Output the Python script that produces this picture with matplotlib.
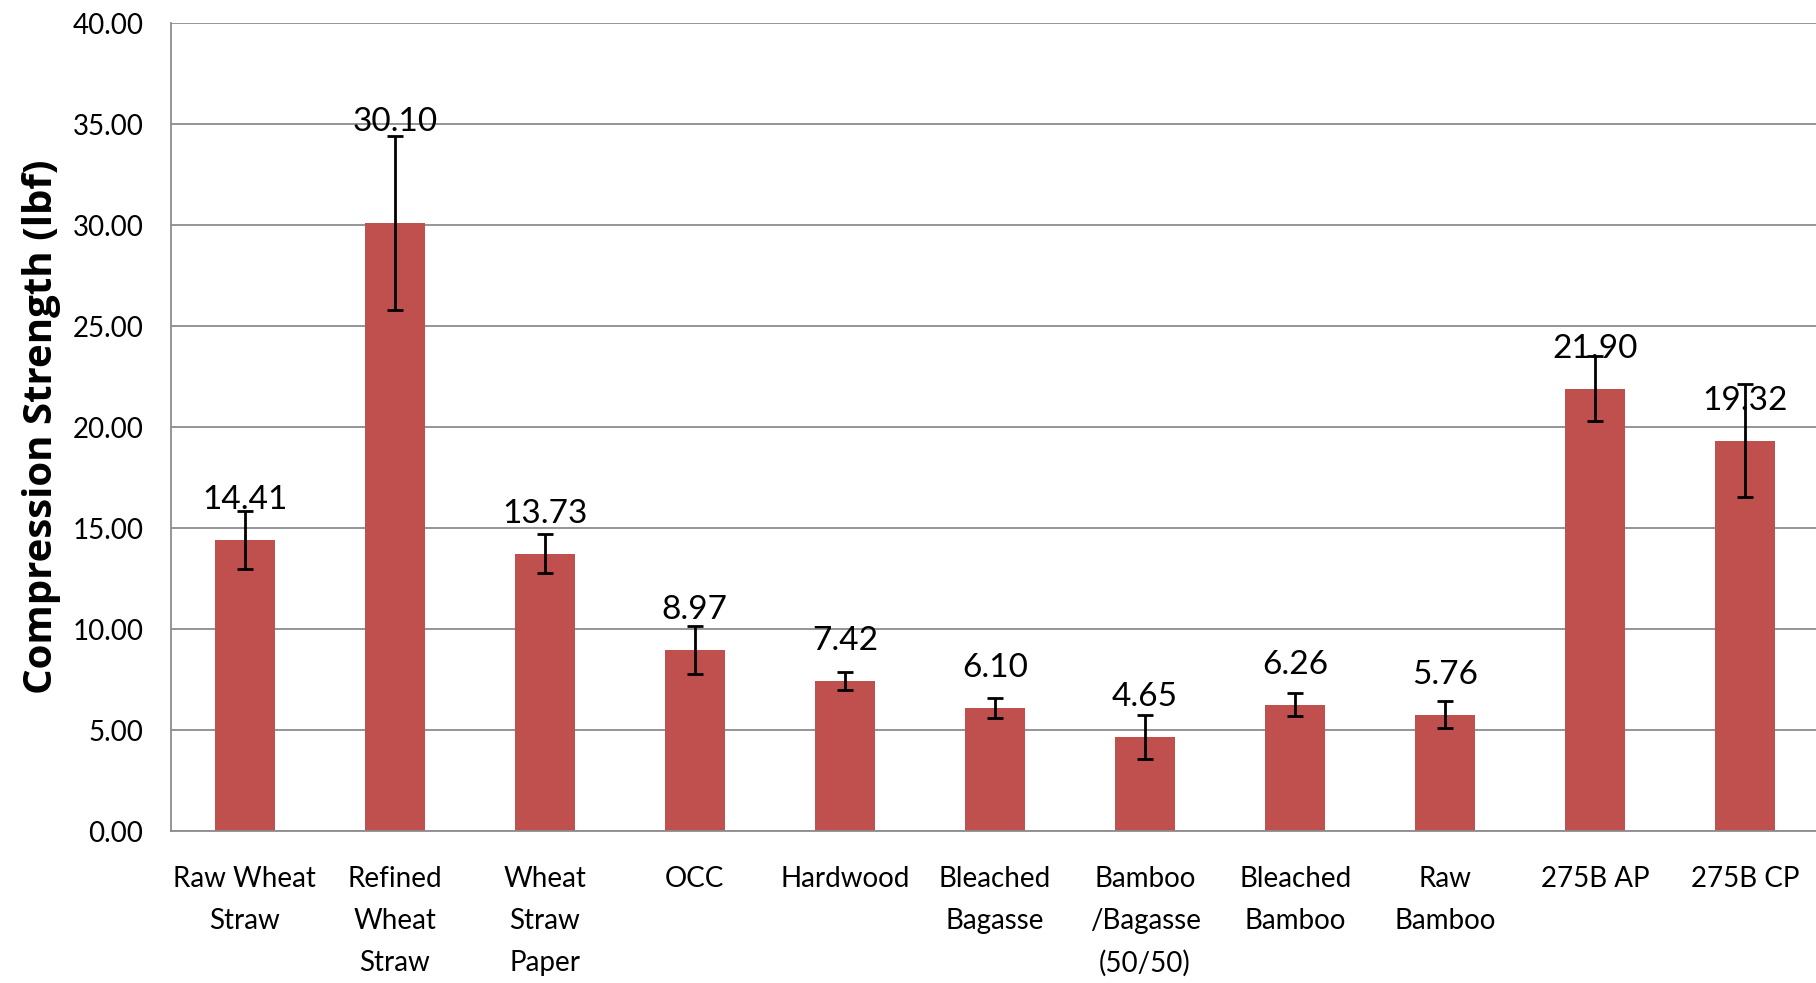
import numpy as np
import matplotlib
matplotlib.use("Agg")
import matplotlib.pyplot as plt

categories = ["Raw Wheat\nStraw", "Refined\nWheat\nStraw", "Wheat\nStraw\nPaper", "OCC",
              "Hardwood", "Bleached\nBagasse", "Bamboo\n/Bagasse\n(50/50)", "Bleached\nBamboo",
              "Raw\nBamboo", "275B AP", "275B CP"]
strength = [14.41, 30.10, 13.73, 8.97, 7.42, 6.10, 4.65, 6.26, 5.76, 21.90, 19.32]
error = [1.44, 4.3, 0.97, 1.2, 0.43, 0.5, 1.07, 0.58, 0.66, 1.6, 2.8]

plt.rcParams['font.family'] = ['Lato', 'DejaVu Sans']

fig = plt.figure(figsize=(18.16, 9.83), dpi=100)
ax = fig.add_axes([0.0942, 0.1546, 0.9058, 0.822])

x = np.arange(len(categories))
ax.bar(x, strength, width=0.4, color='#C0504D', zorder=2)
ax.errorbar(x, strength, yerr=error, fmt='none', ecolor='black', elinewidth=2,
            capsize=5.5, capthick=2, zorder=3)

# value labels sit above the bar tops; the tallest one was moved up in the original
for i, v in enumerate(strength):
    if v > 25:
        ax.text(i, 35.1, f"{v:.2f}", ha='center', va='center', fontsize=24)
    else:
        ax.annotate(f"{v:.2f}", (i, v), xytext=(0, 40), textcoords='offset pixels',
                    ha='center', va='center', fontsize=24)

ax.set_xlim(-0.49, 10.47)
ax.set_ylim(0, 40)
ax.set_yticks(np.arange(0, 40.1, 5))
ax.set_yticklabels([f"{t:.2f}" for t in np.arange(0, 40.1, 5)], fontsize=20)
ax.set_xticks(x)
ax.set_xticklabels(categories, fontsize=20, linespacing=1.76, va='top')
ax.tick_params(axis='both', length=0)
ax.tick_params(axis='y', pad=20)
ax.tick_params(axis='x', pad=25)
ax.yaxis.grid(True, color='#8c8c8c', linewidth=1.3, zorder=0)
ax.set_axisbelow(True)
for s in ['top', 'right']:
    ax.spines[s].set_visible(False)
ax.spines['left'].set_color('#8c8c8c')
ax.spines['bottom'].set_color('#8c8c8c')
ax.spines['left'].set_linewidth(1.3)
ax.spines['bottom'].set_linewidth(1.3)

ax.set_ylabel("Compression Strength (lbf)", fontsize=29, fontweight='bold',
              family=['Open Sans', 'DejaVu Sans'], labelpad=8)

fig.savefig("out.png", dpi=100)
